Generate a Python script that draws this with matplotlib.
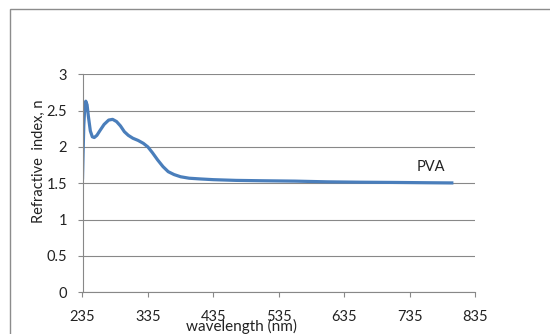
import matplotlib.pyplot as plt
from matplotlib.patches import Rectangle

# Refractive index of PVA film vs wavelength
wavelength = [235, 236, 237, 238.5, 240, 242, 244, 247, 250, 253, 257, 262, 268,
              275, 281, 287, 293, 299, 305, 312, 320, 328, 335, 342, 350,
              358, 366, 375, 385, 398, 415, 435, 470, 510, 560, 610, 660,
              710, 760, 802]
n_index = [1.55, 1.95, 2.30, 2.55, 2.63, 2.58, 2.42, 2.22, 2.14, 2.13, 2.16, 2.23, 2.31,
           2.37, 2.38, 2.35, 2.29, 2.21, 2.16, 2.12, 2.09, 2.05, 2.00, 1.92, 1.82,
           1.73, 1.66, 1.62, 1.59, 1.57, 1.56, 1.55, 1.54, 1.535, 1.53, 1.52, 1.515,
           1.512, 1.508, 1.505]

x_ticks = [235, 335, 435, 535, 635, 735, 835]
y_ticks = [0, 0.5, 1, 1.5, 2, 2.5, 3]
y_tick_labels = ['0', '0.5', '1', '1.5', '2', '2.5', '3']

plt.rcParams['font.family'] = ['Lato', 'DejaVu Sans']

fig = plt.figure(figsize=(5.5, 3.34), dpi=100)
ax = fig.add_axes([82.5 / 550, 1 - 292.3 / 334, 392.5 / 550, 218 / 334])

# outer chart border (cropped at right and bottom)
fig.patches.append(Rectangle((9.5 / 550, -0.1), 1.2, 1 - 9 / 334 + 0.1,
                             transform=fig.transFigure, fill=False,
                             edgecolor='#8c8c8c', linewidth=1.0))

ax.plot(wavelength, n_index, color='#4a7ebb', linewidth=2.3, solid_capstyle='butt')

ax.set_xlim(235, 835)
ax.set_ylim(0, 3)
ax.set_xticks(x_ticks)
ax.set_yticks(y_ticks)
ax.set_yticklabels(y_tick_labels)
ax.grid(axis='y', color='#888888', linewidth=0.8)
ax.set_axisbelow(True)

for side in ['top', 'right']:
    ax.spines[side].set_visible(False)
for side in ['left', 'bottom']:
    ax.spines[side].set_color('#888888')
    ax.spines[side].set_linewidth(0.8)

ax.tick_params(axis='both', colors='#888888', labelcolor='#222222', labelsize=10.5,
               length=3.6, width=0.8)
ax.tick_params(axis='x', pad=9.5)
ax.tick_params(axis='y', pad=7.5)

ax.text(0.406, -0.155, 'wavelength (nm)', transform=ax.transAxes,
        ha='center', va='center', fontsize=11, color='#222222')
ax.text(-0.112, 0.599, 'Refractive  index, n', transform=ax.transAxes,
        ha='center', va='center', rotation=90, fontsize=10.5, color='#222222')
ax.text(746, 1.72, 'PVA', ha='left', va='center', fontsize=10.5, color='#222222')

plt.savefig('out.png', dpi=100)
